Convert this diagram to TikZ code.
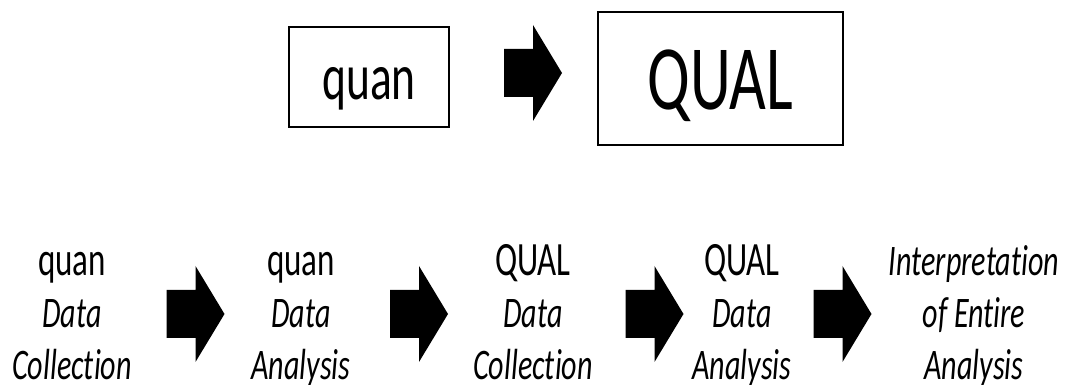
\documentclass[tikz,border=0pt]{standalone}
\usepackage{fontspec}
\setmainfont{Carlito}[FakeStretch=0.69,Ligatures=NoCommon]

\tikzset{
  strand/.style={draw,line width=1.2pt,inner sep=0pt,font=\fontsize{46.9}{56}\selectfont},
  stage/.style={align=center,inner sep=0pt,anchor=north,
    font=\fontsize{31}{37}\selectfont\itshape},
  blockarrow/.pic={\fill (-29,-24) -- (0,-24) -- (0,-48) -- (29,0) -- (0,48) -- (0,24) -- (-29,24) -- cycle;}
}
\newcommand\headword[1]{\strut{\upshape\fontsize{34}{37}\selectfont #1}}

\begin{document}
\begin{tikzpicture}[x=0.025cm,y=-0.025cm]
\useasboundingbox (0,0) rectangle (1068,385);
% sequence in short
\node[strand,minimum width=4cm,minimum height=2.5cm,text height=32.7pt,text depth=0pt] (quanbox) at (369,77) {quan};
\node[strand,minimum width=6.125cm,minimum height=3.325cm,text height=43.4pt,text depth=0pt,
      font=\fontsize{65.4}{78}\selectfont] (qualbox) at (720.5,78.5) {QUAL};
\pic at (533,73) {blockarrow};
% the steps
\node[stage] (quancoll) at (72,239) {\headword{quan}\\ Data\\ Collection};
\node[stage] (quananal) at (301,239) {\headword{quan}\\ Data\\ Analysis};
\node[stage] (qualcoll) at (533,239) {\headword{QUAL}\\ Data\\ Collection};
\node[stage] (qualanal) at (742,239) {\headword{QUAL}\\ Data\\ Analysis};
\node[stage] (interp) at (974,239) {\strut Interpretation\\ of Entire\\ Analysis};
\pic at (195.5,314) {blockarrow};
\pic at (419,314) {blockarrow};
\pic at (654.5,314) {blockarrow};
\pic at (842.5,314) {blockarrow};
\end{tikzpicture}
\end{document}
